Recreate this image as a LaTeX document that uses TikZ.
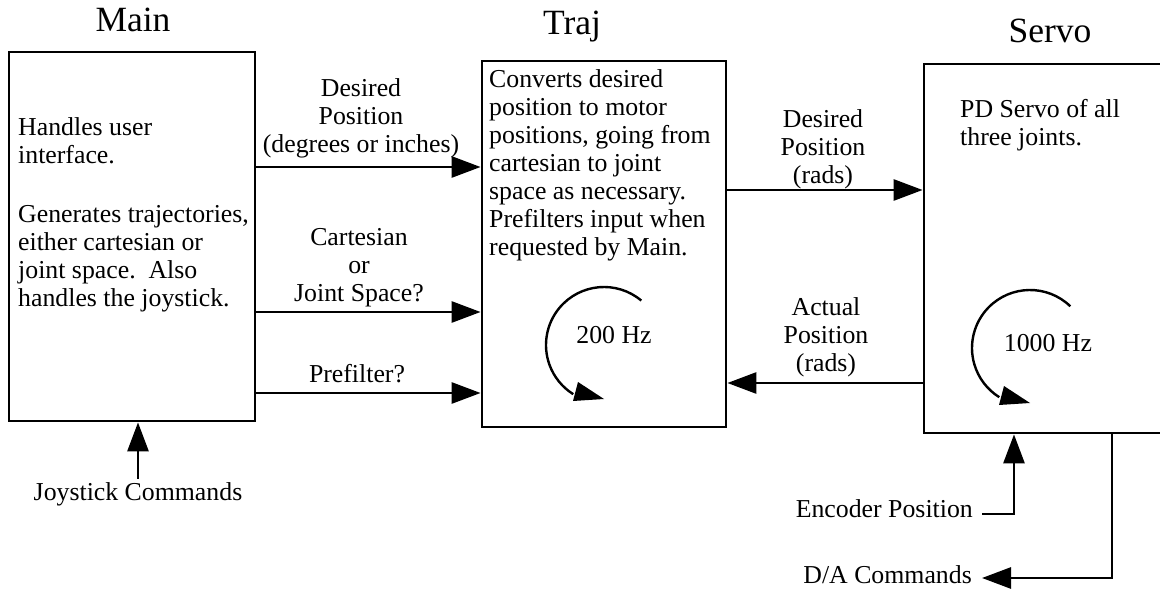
\documentclass[tikz,border=0pt]{standalone}
\usepackage{fontspec}
\setmainfont{Liberation Serif}
\usetikzlibrary{arrows.meta}
\begin{document}
\begin{tikzpicture}[x=1pt,y=-1pt,
  box/.style={draw, line width=2.8pt, rectangle, inner sep=0pt},
  arr/.style={line width=2.8pt, -{Triangle[length=29pt,width=21pt]}},
  txt/.style={font=\fontsize{25.8}{28}\selectfont, inner sep=0pt},
  title/.style={font=\fontsize{35.5}{40}\selectfont, inner sep=0pt},
  spin/.style={line width=2.4pt},
]
\useasboundingbox (0,0) rectangle (1160,591);
\clip (0,0) rectangle (1160,591);

% titles
\node[title, anchor=base] (tmain)  at (133,32) {Main};
\node[title, anchor=base] (ttraj)  at (572,35) {Traj};
\node[title, anchor=base] (tservo) at (1050,43) {Servo};

% process boxes
\node[box, minimum width=246pt, minimum height=369pt] (main)  at (132,236.5) {};
\node[box, minimum width=244pt, minimum height=366pt] (traj)  at (604,244) {};
\node[box, minimum width=256pt, minimum height=369pt] (servo) at (1052,248.5) {};

% box descriptions (anchored at the baseline of the last line)
\node[txt, align=left, anchor=base west] (dmain) at (18,306)
  {Handles user\\interface.\\[31pt]Generates trajectories,\\either cartesian or\\joint space.\ \ Also\\handles the joystick.};
\node[txt, align=left, anchor=base west] (dtraj) at (489,255)
  {Converts desired\\position to motor\\positions, going from\\cartesian to joint\\space as necessary.\\Prefilters input when\\requested by Main.};
\node[txt, align=left, anchor=base west] (dservo) at (960,146)
  {PD Servo of all\\three joints.};

% loop rates
\node[txt, anchor=base] (r200)  at (614,343) {200 Hz};
\node[txt, anchor=base] (r1000) at (1048,351) {1000 Hz};
\draw[spin] (604,345) ++(-50:58) arc[start angle=-50, end angle=-238, radius=58];
\fill[shift={(604,345)}] (-31,56) -- (-26,37) -- (0,54) -- cycle;
\draw[spin] (1030,348) ++(-46:58) arc[start angle=-46, end angle=-238, radius=58];
\fill[shift={(1030,348)}] (-31,57) -- (-26,38) -- (0,55) -- cycle;

% signal labels
\node[txt, align=center, anchor=base] (ldes)  at (361,153) {Desired\\Position\\(degrees or inches)};
\node[txt, align=center, anchor=base] (lcart) at (359,301) {Cartesian\\or\\Joint Space?};
\node[txt, align=center, anchor=base] (lpre)  at (357,382) {Prefilter?};
\node[txt, align=center, anchor=base] (lrad)  at (823,183) {Desired\\Position\\(rads)};
\node[txt, align=center, anchor=base] (lact)  at (826,371) {Actual\\Position\\(rads)};

% signals between processes
\draw[arr] (main.east |- 0,167) -- (traj.west |- 0,167);
\draw[arr] (main.east |- 0,312) -- (traj.west |- 0,312);
\draw[arr] (main.east |- 0,393) -- (traj.west |- 0,393);
\draw[arr] (traj.east |- 0,190) -- (servo.west |- 0,190);
\draw[arr] (servo.west |- 0,383) -- (traj.east |- 0,383);

% external inputs and outputs
\node[txt, anchor=base] (joy) at (138,500) {Joystick Commands};
\draw[arr] ([yshift=3pt]joy.north) -- (joy.north |- main.south);

\node[txt, anchor=base east] (enc) at (973,517) {Encoder Position};
\coordinate (encbend) at (1014,514);
\draw[arr] ([shift={(9pt,3pt)}]enc.base east) -- (encbend) -- (encbend |- servo.south);

\node[txt, anchor=base east] (da) at (972,583) {D/A Commands};
\coordinate (dabend) at (1112,578);
\draw[arr] (servo.south -| dabend) -- (dabend) -- ([shift={(10pt,5pt)}]da.base east);
\end{tikzpicture}
\end{document}
